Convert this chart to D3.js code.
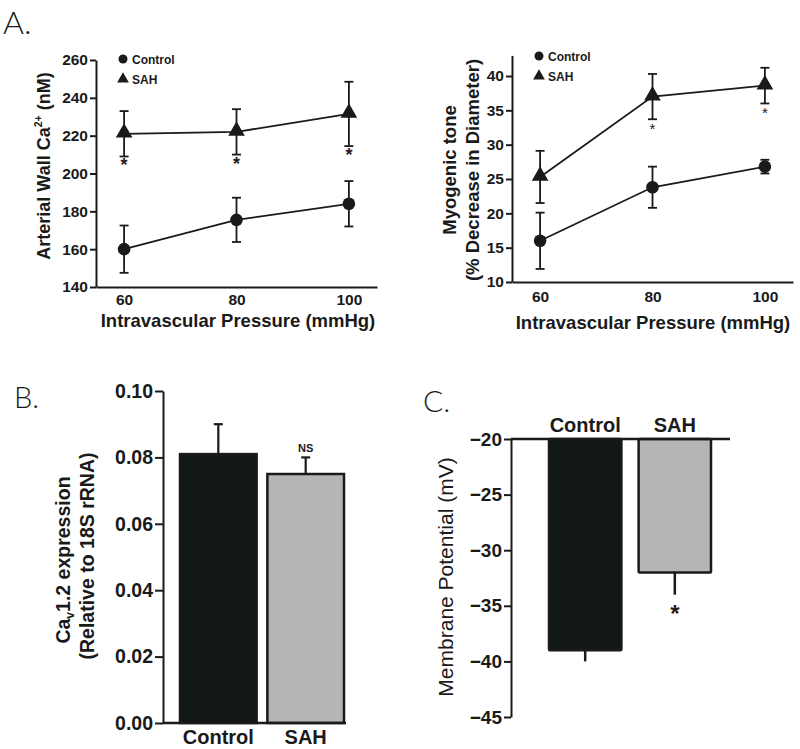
<!DOCTYPE html>
<html><head><meta charset="utf-8">
<script src="https://cdn.jsdelivr.net/npm/d3@7"></script>
<style>
body{margin:0;background:#fff;}
svg{display:block;}
.tk text{font-family:"Liberation Sans",Arial,sans-serif;font-weight:bold;fill:#1a1a1a;}
.tk path,.tk line{stroke:#1a1a1a;stroke-width:2;}
</style></head>
<body>
<svg id="c" width="800" height="749"></svg>
<script>
// ---------- DATA ----------
const pressures = [60, 80, 100];
const seriesNames = ["Control", "SAH"];
// Panel A (left): arterial wall Ca2+ (nM)
const caControl = [160, 175.5, 184];
const caControlErr = [12.5, 11.7, 12];
const caSAH = [221, 222, 231.5];
const caSAHErr = [12, 12, 17];
const caStars = [true, true, true];
const caTicks = [140, 160, 180, 200, 220, 240, 260];
// Panel A (right): myogenic tone (%)
const toneControl = [16, 23.8, 26.8];
const toneControlErr = [4.1, 3.0, 1.0];
const toneSAH = [25.3, 37, 38.6];
const toneSAHErr = [3.8, 3.3, 2.6];
const toneStars = [false, true, true];
const toneTicks = [10, 15, 20, 25, 30, 35, 40];
// Panel B: CaV1.2 expression
const exprCats = ["Control", "SAH"];
const exprValues = [0.081, 0.075];
const exprErr = [0.009, 0.005];
const exprTicks = [0, 0.02, 0.04, 0.06, 0.08, 0.10];
// Panel C: membrane potential (mV)
const vmCats = ["Control", "SAH"];
const vmValues = [-39, -32];
const vmErr = [1, 2];
const vmTicks = [-45, -40, -35, -30, -25, -20];

const barColors = {Control: "#121817", SAH: "#b5b5b5"};
const ink = "#1a1a1a";
const svg = d3.select("#c");
const boldFont = '"Liberation Sans", Arial, sans-serif';
const letterFont = 'Lato, "DejaVu Sans", sans-serif';

function label(txt, x, y, size) {
  svg.append("text").attr("x", x).attr("y", y).text(txt)
    .attr("font-family", letterFont).attr("font-weight", 300)
    .attr("font-size", size).attr("fill", ink);
}

// ---------- generic line panel ----------
function linePanel(opt) {
  const x = d3.scaleLinear().domain([55, 105]).range(opt.xr);
  const y = d3.scaleLinear().domain(opt.yd).range(opt.yr);
  const g = svg.append("g");
  g.append("g").attr("class", "tk").attr("transform", `translate(${opt.xr[0]},0)`)
    .call(d3.axisLeft(y).tickValues(opt.ticks).tickSize(6).tickSizeOuter(0).tickPadding(2).tickFormat(d3.format("d")))
    .call(s => s.selectAll("text").attr("font-size", 15.5));
  g.append("g").attr("class", "tk").attr("transform", `translate(0,${opt.yr[0]})`)
    .call(d3.axisBottom(x).tickValues(pressures).tickSize(0).tickSizeOuter(0).tickPadding(opt.xPad).tickFormat(d3.format("d")))
    .call(s => s.selectAll("text").attr("font-size", 15.5));
  const series = [
    {name: "Control", v: opt.ctrl, e: opt.ctrlErr, shape: "circle"},
    {name: "SAH", v: opt.sah, e: opt.sahErr, shape: "tri"}
  ];
  const line = d3.line().x((d, i) => x(pressures[i])).y(d => y(d));
  series.forEach(s => {
    g.append("path").attr("d", line(s.v)).attr("fill", "none").attr("stroke", ink).attr("stroke-width", 1.8);
    s.v.forEach((v, i) => {
      const cx = x(pressures[i]);
      const hi = y(v + s.e[i]), lo = y(v - s.e[i]);
      g.append("line").attr("x1", cx).attr("x2", cx).attr("y1", hi).attr("y2", lo).attr("stroke", ink).attr("stroke-width", 1.8);
      [hi, lo].forEach(yy => g.append("line").attr("x1", cx - 4.5).attr("x2", cx + 4.5).attr("y1", yy).attr("y2", yy).attr("stroke", ink).attr("stroke-width", 1.8));
      if (s.shape === "circle") {
        g.append("circle").attr("cx", cx).attr("cy", y(v)).attr("r", 6.3).attr("fill", ink);
      } else {
        g.append("path").attr("d", d3.symbol(d3.symbolTriangle, 120)())
          .attr("transform", `translate(${cx},${y(v) - 1})`).attr("fill", ink);
      }
    });
  });
  opt.stars.forEach((st, i) => {
    if (!st) return;
    const yy = y(opt.sah[i] - opt.sahErr[i]);
    g.append("text").attr("x", x(pressures[i])).attr("y", yy + opt.starDy).attr("text-anchor", "middle")
      .attr("font-family", boldFont).attr("font-weight", opt.starBold ? "bold" : "normal")
      .attr("font-size", opt.starSize).attr("fill", opt.starBold ? "#2a1a1a" : ink).text("*");
  });
  const lx = opt.legend[0], ly = opt.legend[1];
  g.append("circle").attr("cx", lx).attr("cy", ly).attr("r", 4.5).attr("fill", ink);
  g.append("path").attr("d", d3.symbol(d3.symbolTriangle, 60)()).attr("transform", `translate(${lx},${ly + 20})`).attr("fill", ink);
  seriesNames.forEach((n, i) => g.append("text").attr("x", lx + 9).attr("y", ly + 4.5 + i * 20).text(n)
    .attr("font-family", boldFont).attr("font-weight", "bold").attr("font-size", 12).attr("fill", ink));
  g.append("text").attr("x", opt.xtX).attr("y", opt.xtY).attr("text-anchor", "middle")
    .attr("font-family", boldFont).attr("font-weight", "bold").attr("font-size", 18.5).attr("fill", ink)
    .text("Intravascular Pressure (mmHg)");
  return {x, y, g};
}

label("A.", 3, 34, 32);

linePanel({xr: [96, 377], yd: [140, 260], yr: [287, 60], ticks: caTicks,
  ctrl: caControl, ctrlErr: caControlErr, sah: caSAH, sahErr: caSAHErr, stars: caStars,
  starDy: 15, starSize: 18, starBold: true, legend: [123, 59], xtX: 238, xtY: 327, xPad: 7});
{
  const t = svg.append("text").attr("transform", "translate(50,166) rotate(-90)").attr("text-anchor", "middle")
    .attr("font-family", boldFont).attr("font-weight", "bold").attr("font-size", 18).attr("fill", ink);
  t.append("tspan").text("Arterial Wall Ca");
  t.append("tspan").text("2+").attr("font-size", 10.5).attr("dy", -8);
  t.append("tspan").text(" (nM)").attr("dy", 8);
}

linePanel({xr: [512, 793], yd: [10, 43], yr: [282, 55.4], ticks: toneTicks,
  ctrl: toneControl, ctrlErr: toneControlErr, sah: toneSAH, sahErr: toneSAHErr, stars: toneStars,
  starDy: 15, starSize: 15, starBold: false, legend: [539, 56], xtX: 653, xtY: 329, xPad: 9});
["Myogenic tone", "(% Decrease in Diameter)"].forEach((s, i) =>
  svg.append("text").attr("transform", `translate(${456 + i * 23},170) rotate(-90)`).attr("text-anchor", "middle")
    .attr("font-family", boldFont).attr("font-weight", "bold").attr("font-size", 18.5).attr("fill", ink).text(s));

// ---------- Panel B ----------
label("B.", 14, 408, 29);
{
  const y = d3.scaleLinear().domain([0, 0.1]).range([723, 391]);
  const x = d3.scaleBand().domain(exprCats).range([179, 345]).paddingInner(0.1).paddingOuter(0);
  const g = svg.append("g");
  exprValues.forEach((v, i) => {
    const c = exprCats[i], cx = x(c) + x.bandwidth() / 2;
    g.append("line").attr("x1", cx).attr("x2", cx).attr("y1", y(v)).attr("y2", y(v + exprErr[i])).attr("stroke", ink).attr("stroke-width", 2.2);
    g.append("line").attr("x1", cx - 4.5).attr("x2", cx + 4.5).attr("y1", y(v + exprErr[i])).attr("y2", y(v + exprErr[i])).attr("stroke", ink).attr("stroke-width", 2.2);
    g.append("rect").attr("x", x(c) + 1).attr("y", y(v)).attr("width", x.bandwidth() - 2).attr("height", y(0) - y(v))
      .attr("fill", barColors[c]).attr("stroke", ink).attr("stroke-width", 2.5);
  });
  g.append("text").attr("x", x("SAH") + x.bandwidth() / 2).attr("y", y(exprValues[1] + exprErr[1]) - 5).attr("text-anchor", "middle")
    .attr("font-family", boldFont).attr("font-weight", "bold").attr("font-size", 11).text("NS").attr("fill", ink);
  g.append("g").attr("class", "tk").attr("transform", "translate(163,0)")
    .call(d3.axisLeft(y).tickValues(exprTicks).tickSize(8).tickSizeOuter(0).tickPadding(2).tickFormat(d3.format(".2f")))
    .call(s => s.selectAll("text").attr("font-size", 19.5))
    .call(s => s.selectAll("path,line").attr("stroke-width", 2.5));
  g.append("line").attr("x1", 163).attr("x2", 346).attr("y1", y(0)).attr("y2", y(0)).attr("stroke", ink).attr("stroke-width", 2.5);
  exprCats.forEach(c => g.append("text").attr("x", x(c) + x.bandwidth() / 2).attr("y", 744).attr("text-anchor", "middle")
    .attr("font-family", boldFont).attr("font-weight", "bold").attr("font-size", 20).attr("fill", ink).text(c));
  const t1 = svg.append("text").attr("transform", "translate(70,560) rotate(-90)").attr("text-anchor", "middle")
    .attr("font-family", boldFont).attr("font-weight", "bold").attr("font-size", 19.5).attr("fill", ink);
  t1.append("tspan").text("Ca");
  t1.append("tspan").text("v").attr("font-size", 12).attr("dy", 4);
  t1.append("tspan").text("1.2 expression").attr("dy", -4);
  svg.append("text").attr("transform", "translate(94,556) rotate(-90)").attr("text-anchor", "middle")
    .attr("font-family", boldFont).attr("font-weight", "bold").attr("font-size", 19.5).attr("fill", ink)
    .text("(Relative to 18S rRNA)");
}

// ---------- Panel C ----------
label("C.", 423, 412, 30);
{
  const y = d3.scaleLinear().domain([-45, -20]).range([717, 439]);
  const x = d3.scaleBand().domain(vmCats).range([548, 712]).paddingInner(0.17).paddingOuter(0);
  const g = svg.append("g");
  vmValues.forEach((v, i) => {
    const c = vmCats[i], cx = x(c) + x.bandwidth() / 2;
    g.append("line").attr("x1", cx).attr("x2", cx).attr("y1", y(v)).attr("y2", y(v - vmErr[i])).attr("stroke", ink).attr("stroke-width", 2.5);
    g.append("rect").attr("x", x(c) + 1).attr("y", y(-20)).attr("width", x.bandwidth() - 2).attr("height", y(v) - y(-20))
      .attr("fill", barColors[c]).attr("stroke", ink).attr("stroke-width", 2.5).attr("rx", 1);
    g.append("text").attr("x", x(c) + x.bandwidth() / 2).attr("y", 432).attr("text-anchor", "middle")
      .attr("font-family", boldFont).attr("font-weight", "bold").attr("font-size", 20).attr("fill", ink).text(c);
  });
  g.append("text").attr("x", x("SAH") + x.bandwidth() / 2).attr("y", y(vmValues[1] - vmErr[1]) + 27).attr("text-anchor", "middle")
    .attr("font-family", boldFont).attr("font-weight", "bold").attr("font-size", 24).attr("fill", "#2a1a1a").text("*");
  g.append("g").attr("class", "tk").attr("transform", "translate(511,0)")
    .call(d3.axisLeft(y).tickValues(vmTicks).tickSize(7).tickSizeOuter(0).tickPadding(2).tickFormat(d3.format("d")))
    .call(s => s.selectAll("text").attr("font-size", 19))
    .call(s => s.selectAll("path,line").attr("stroke-width", 2.5));
  g.append("line").attr("x1", 511).attr("x2", 730).attr("y1", y(-20)).attr("y2", y(-20)).attr("stroke", ink).attr("stroke-width", 2.5);
  svg.append("text").attr("transform", "translate(453,577) rotate(-90)").attr("text-anchor", "middle")
    .attr("font-family", boldFont).attr("font-weight", "normal").attr("font-size", 21).attr("fill", ink)
    .text("Membrane Potential (mV)");
}
</script>
</body></html>
